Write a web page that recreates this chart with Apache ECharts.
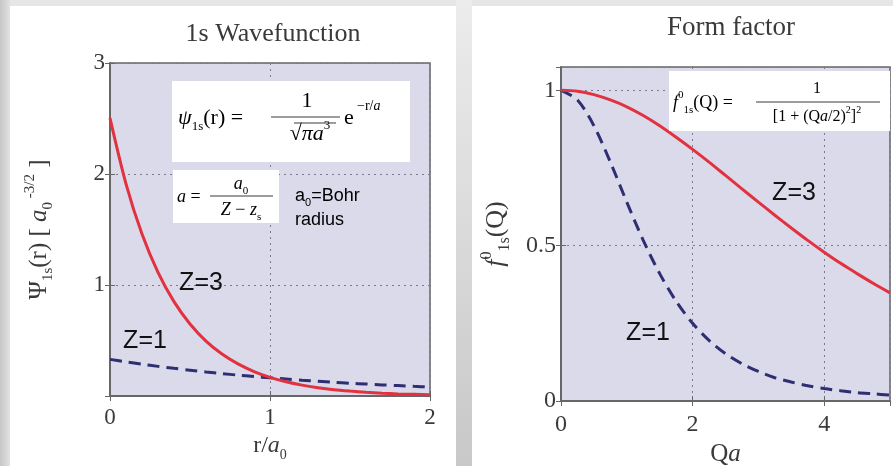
<!DOCTYPE html>
<html lang="en">
<head>
    <meta charset="UTF-8">
    <title>1s Wavefunction / Form factor</title>
    <style>
        html, body { margin: 0; padding: 0; }
        #main { width: 893px; height: 466px; }
    </style>
</head>
<body>
<div id="main"></div>
<script src="https://cdn.jsdelivr.net/npm/echarts@6/dist/echarts.min.js"></script>
<script>
    // left panel: psi_1s(r), r in units of a0
    var rVals = [0, 0.1, 0.2, 0.3, 0.4, 0.5, 0.6, 0.7, 0.8, 0.9, 1.0,
        1.1, 1.2, 1.3, 1.4, 1.5, 1.6, 1.7, 1.8, 1.9, 2.0];
    var psiZ3 = [2.503, 1.911, 1.459, 1.114, 0.850, 0.649, 0.495, 0.378, 0.289, 0.220, 0.168,
        0.128, 0.098, 0.075, 0.057, 0.044, 0.033, 0.025, 0.019, 0.015, 0.011];
    var psiZ1 = [0.330, 0.308, 0.287, 0.267, 0.249, 0.233, 0.217, 0.202, 0.188, 0.176, 0.164,
        0.153, 0.142, 0.133, 0.124, 0.115, 0.108, 0.100, 0.094, 0.087, 0.081];

    // right panel: form factor vs Qa
    var qVals = [0, 0.25, 0.5, 0.75, 1.0, 1.25, 1.5, 1.75, 2.0, 2.25, 2.5,
        2.75, 3.0, 3.25, 3.5, 3.75, 4.0, 4.25, 4.5, 4.75, 5.0];
    var fZ1 = [1, 0.969, 0.886, 0.769, 0.640, 0.517, 0.410, 0.321, 0.250, 0.195, 0.152,
        0.120, 0.095, 0.075, 0.061, 0.049, 0.040, 0.033, 0.027, 0.023, 0.019];
    var fZ3 = [1, 0.997, 0.986, 0.969, 0.947, 0.919, 0.886, 0.849, 0.810, 0.769, 0.726,
        0.683, 0.640, 0.598, 0.557, 0.517, 0.479, 0.443, 0.410, 0.378, 0.348];

    var leftTicksX = [0, 1, 2];
    var leftTicksY = [1, 2, 3];
    var rightTicksX = [0, 2, 4];
    var rightTicksY = [0, 0.5, 1];

    var SERIF = '"Liberation Serif", "DejaVu Serif", serif';
    var SANS = '"Liberation Sans", Arial, sans-serif';
    var TXT = '#3a3a3a';
    var RED = '#e2323f';
    var BLUE = '#2e2e72';

    var pairs = function (xs, ys) {
        return xs.map(function (x, i) { return [x, ys[i]]; });
    };

    var serifRich = function (size) {
        return {
            n: {fontFamily: SERIF, fontSize: size, color: TXT, lineHeight: size + 8, verticalAlign: 'middle'},
            i: {fontFamily: SERIF, fontSize: size, fontStyle: 'italic', color: TXT, lineHeight: size + 8, verticalAlign: 'middle'},
            s: {fontFamily: SERIF, fontSize: Math.round(size * 0.6), color: TXT, lineHeight: size + 8, verticalAlign: 'bottom'},
            si: {fontFamily: SERIF, fontSize: Math.round(size * 0.6), fontStyle: 'italic', color: TXT, lineHeight: size + 8, verticalAlign: 'bottom'},
            u: {fontFamily: SERIF, fontSize: Math.round(size * 0.6), color: TXT, lineHeight: size + 8, verticalAlign: 'top'}
        };
    };

    var mainAxis = function (grid, pos, min, max, interval, labelSize, margin, extra) {
        var ax = {
            type: 'value',
            gridIndex: grid,
            position: pos,
            min: min,
            max: max,
            interval: interval,
            axisLine: {show: true, lineStyle: {color: '#666666', width: 1.5}},
            axisTick: {show: true, inside: true, length: 5, lineStyle: {color: '#666666'}},
            axisLabel: {
                show: true,
                margin: margin,
                fontFamily: SERIF,
                fontSize: labelSize,
                color: TXT
            },
            splitLine: {show: true, lineStyle: {color: '#7a7a90', type: [2, 4], width: 1}}
        };
        for (var k in extra) {
            ax[k] = extra[k];
        }
        return ax;
    };

    var mirrorAxis = function (grid, pos, min, max, interval) {
        return {
            type: 'value',
            gridIndex: grid,
            position: pos,
            min: min,
            max: max,
            interval: interval,
            axisLine: {show: true, lineStyle: {color: '#666666', width: 1.5}},
            axisTick: {show: true, inside: true, length: 5, lineStyle: {color: '#666666'}},
            axisLabel: {show: false},
            splitLine: {show: false}
        };
    };

    var txt = function (x, y, text, rich, align) {
        return {
            type: 'text', x: x, y: y, z: 100,
            style: {text: text, rich: rich, align: align || 'left', verticalAlign: 'middle'}
        };
    };
    var bar = function (x1, x2, y) {
        return {
            type: 'line', z: 100,
            shape: {x1: x1, y1: y, x2: x2, y2: y},
            style: {stroke: TXT, lineWidth: 1}
        };
    };
    var box = function (x, y, w, h) {
        return {type: 'rect', z: 90, shape: {x: x, y: y, width: w, height: h}, style: {fill: '#ffffff'}};
    };
    var zLabel = function (x, y, text) {
        return {
            type: 'text', x: x, y: y, z: 100,
            style: {text: text, fontFamily: SANS, fontSize: 25, fill: '#111', align: 'center', verticalAlign: 'middle'}
        };
    };

    var r20 = serifRich(22);
    var r18 = serifRich(18);
    var r16 = serifRich(16);
    var sansRich = {
        n: {fontFamily: SANS, fontSize: 18, color: '#111', lineHeight: 24, verticalAlign: 'middle'},
        s: {fontFamily: SANS, fontSize: 11, color: '#111', lineHeight: 24, verticalAlign: 'bottom'}
    };

    var option = {
        animation: false,
        backgroundColor: '#e6e6e6',
        graphic: {
            elements: [
                // page background pieces
                {type: 'rect', z: -100, shape: {x: 0, y: 0, width: 10, height: 466},
                    style: {fill: new echarts.graphic.LinearGradient(0, 0, 1, 0, [
                        {offset: 0, color: '#c6c6c6'}, {offset: 1, color: '#e2e2e2'}])}},
                {type: 'rect', z: -100, shape: {x: 456, y: 0, width: 16, height: 466},
                    style: {fill: new echarts.graphic.LinearGradient(0, 0, 0, 1, [
                        {offset: 0, color: '#ececec'}, {offset: 1, color: '#c8c8c8'}])}},
                {type: 'rect', z: -99, shape: {x: 10, y: 6, width: 446, height: 460}, style: {fill: '#ffffff'}},
                {type: 'rect', z: -99, shape: {x: 472, y: 6, width: 421, height: 460}, style: {fill: '#ffffff'}},

                // titles
                {type: 'text', x: 273, y: 34, z: 100,
                    style: {text: '1s Wavefunction', fontFamily: SERIF, fontSize: 26, fill: TXT, align: 'center', verticalAlign: 'middle'}},
                {type: 'text', x: 731, y: 28, z: 100,
                    style: {text: 'Form factor', fontFamily: SERIF, fontSize: 27, fill: TXT, align: 'center', verticalAlign: 'middle'}},

                // psi formula box
                box(172, 81, 238, 81),
                txt(178, 118, '{i|ψ}{s|1s}{n|(r) =}', r20),
                txt(307, 101, '{n|1}', r20, 'center'),
                bar(271, 340, 117),
                txt(310, 134, '{n|√}{i|πa}{u|3}', r20, 'center'),
                bar(294, 336, 123),
                txt(344, 118, '{n|e}', r20),
                txt(357, 106, '{n|−r/}{i|a}', serifRich(14)),

                // a = a0/(Z - zs) box
                box(173, 170, 106, 53),
                txt(177, 197, '{i|a}{n| =}', r18),
                txt(241, 184, '{i|a}{s|0}', r18, 'center'),
                bar(210, 273, 196),
                txt(241, 210, '{i|Z}{n| − }{i|z}{s|s}', r18, 'center'),
                txt(295, 196, '{n|a}{s|0}{n|=Bohr}', sansRich),
                txt(295, 220, '{n|radius}', sansRich),

                // form factor formula box
                box(669, 71, 221, 60),
                txt(673, 103, '{i|f}{u|0}{s|1s}{n|(Q) =}', r18),
                txt(817, 89, '{n|1}', r16, 'center'),
                bar(756, 880, 102),
                txt(817, 117, '{n|[1 + (Q}{i|a}{n|/2)}{u|2}{n|]}{u|2}', r16, 'center'),

                // curve labels
                zLabel(201, 283, 'Z=3'),
                zLabel(145, 341, 'Z=1'),
                zLabel(794, 193, 'Z=3'),
                zLabel(648, 333, 'Z=1')
            ]
        },
        grid: [
            {left: 110, top: 63, width: 320, height: 333, show: true, containLabel: false, outerBoundsMode: 'none',
                backgroundColor: '#dadaea', borderColor: '#666666', borderWidth: 1.5},
            {left: 561, top: 67, width: 329, height: 334, show: true, containLabel: false, outerBoundsMode: 'none',
                backgroundColor: '#dadaea', borderColor: '#666666', borderWidth: 1.5}
        ],
        xAxis: [
            mainAxis(0, 'bottom', leftTicksX[0], leftTicksX[2], leftTicksX[1] - leftTicksX[0], 23, 10, {
                name: '{n|r/}{i|a}{s|0}',
                nameLocation: 'middle',
                nameGap: 32,
                nameTextStyle: {rich: serifRich(24)}
            }),
            mirrorAxis(0, 'top', 0, 2, 1),
            mainAxis(1, 'bottom', rightTicksX[0], 5, rightTicksX[1] - rightTicksX[0], 24, 12, {
                name: '{n|Q}{i|a}',
                nameLocation: 'middle',
                nameGap: 34,
                nameTextStyle: {rich: serifRich(25)}
            }),
            mirrorAxis(1, 'top', 0, 5, 2)
        ],
        yAxis: [
            mainAxis(0, 'left', 0, leftTicksY[2], leftTicksY[1] - leftTicksY[0], 23, 5, {
                name: '{n|Ψ}{s|1s}{n|(r) [ }{i|a}{s|0}{u| -3/2}{n| ]}',
                nameLocation: 'middle',
                nameGap: 54,
                nameRotate: 90,
                nameTextStyle: {rich: serifRich(25)}
            }),
            mirrorAxis(0, 'right', 0, 3, 1),
            mainAxis(1, 'left', rightTicksY[0], 1.075, rightTicksY[1] - rightTicksY[0], 24, 5, {
                name: '{i|f}{u|0}{s|1s}{n|(Q)}',
                nameLocation: 'middle',
                nameGap: 48,
                nameRotate: 90,
                nameTextStyle: {rich: serifRich(26)}
            }),
            mirrorAxis(1, 'right', 0, 1.075, 0.5)
        ],
        series: [
            {
                name: 'Z=1 psi',
                type: 'line',
                xAxisIndex: 0,
                yAxisIndex: 0,
                showSymbol: false,
                smooth: 0.3,
                lineStyle: {color: BLUE, width: 3, type: [12, 7]},
                data: pairs(rVals, psiZ1)
            },
            {
                name: 'Z=3 psi',
                type: 'line',
                xAxisIndex: 0,
                yAxisIndex: 0,
                showSymbol: false,
                smooth: 0.3,
                lineStyle: {color: RED, width: 3},
                data: pairs(rVals, psiZ3)
            },
            {
                name: 'Z=1 f',
                type: 'line',
                xAxisIndex: 2,
                yAxisIndex: 2,
                showSymbol: false,
                smooth: 0.3,
                lineStyle: {color: BLUE, width: 3, type: [12, 7]},
                data: pairs(qVals, fZ1)
            },
            {
                name: 'Z=3 f',
                type: 'line',
                xAxisIndex: 2,
                yAxisIndex: 2,
                showSymbol: false,
                smooth: 0.3,
                lineStyle: {color: RED, width: 3},
                data: pairs(qVals, fZ3)
            }
        ]
    };

    // hide labels the reference leaves out
    option.yAxis[0].axisLabel.showMinLabel = false;
    option.yAxis[2].axisLabel.showMaxLabel = false;
    option.xAxis[2].axisLabel.showMaxLabel = false;

    var myChart = echarts.init(document.getElementById('main'));
    myChart.setOption(option);
</script>
</body>
</html>
